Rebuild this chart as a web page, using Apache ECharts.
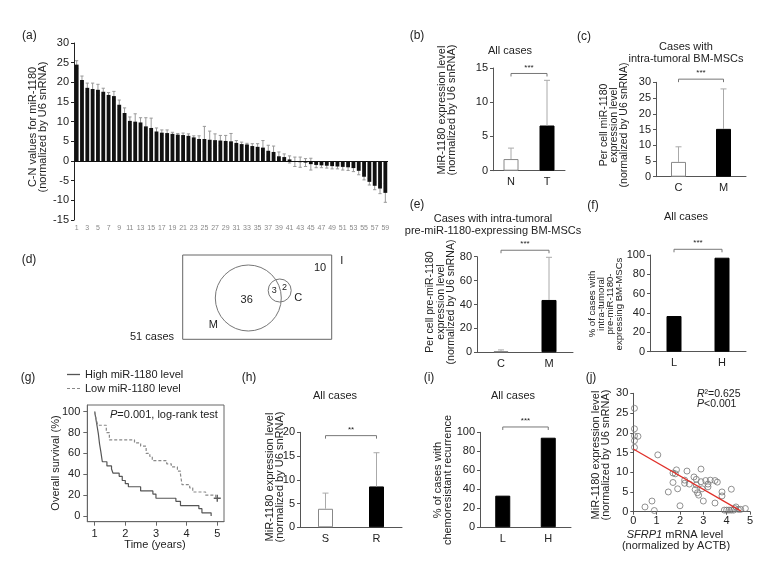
<!DOCTYPE html>
<html><head><meta charset="utf-8">
<script src="https://cdn.jsdelivr.net/npm/echarts@6/dist/echarts.min.js"></script>
<style>html,body{margin:0;padding:0;background:#fff}#c{width:770px;height:563px}</style>
</head><body><div id="c"></div>
<script>
const FONT = '"Liberation Sans", Arial, Helvetica, sans-serif';

// ---------- (a) C-N values per case ----------
const aCases = ['1','2','3','4','5','6','7','8','9','10','11','12','13','14','15','16','17','18','19','20',
  '21','22','23','24','25','26','27','28','29','30','31','32','33','34','35','36','37','38','39','40',
  '41','42','43','44','45','46','47','48','49','50','51','52','53','54','55','56','57','58','59'];
const aValues = [24.5,20.6,18.6,18.3,18.1,17.6,16.8,16.5,14.3,12.2,
  10.2,10.0,9.8,8.8,8.4,7.5,7.2,7.1,6.9,6.7,
  6.6,6.4,6.0,5.6,5.6,5.4,5.3,5.2,5.1,5.0,
  4.6,4.3,4.2,3.8,3.6,3.4,2.6,2.3,1.2,1.0,
  0.4,-0.2,-0.3,-0.4,-0.8,-1.0,-1.1,-1.2,-1.3,-1.4,
  -1.5,-1.6,-1.8,-2.5,-4.0,-5.3,-6.3,-7.0,-8.1];
const aErrors = [1.0,1.0,1.2,1.5,1.4,0.9,0.6,1.2,1.2,1.3,
  1.0,2.0,1.2,2.2,2.5,0.9,0.7,0.8,0.4,0.3,
  0.5,0.5,0.4,0.8,3.2,2.2,1.6,1.3,1.4,2.0,
  0.6,0.5,0.3,0.6,0.8,1.8,1.4,1.5,1.1,0.8,
  0.9,1.2,1.3,1.0,1.5,0.7,0.6,0.6,0.7,0.6,
  0.8,0.8,0.9,1.0,0.8,0.8,1.0,1.3,2.4];
const aTicks = [-15,-10,-5,0,5,10,15,20,25,30];

// ---------- (b) ----------
const bCats = ['N','T'];
const bMeans = [1.7, 6.6];
const bSD = [1.6, 6.6];
const bTicks = [0,5,10,15];

// ---------- (c) ----------
const cCats = ['C','M'];
const cMeans = [4.7, 15.2];
const cSD = [4.8, 12.7];
const cTicks = [0,5,10,15,20,25,30];

// ---------- (d) Venn counts ----------
const dCounts = {onlyM: 36, both: 3, onlyC: 2, neither: 10, total: 51};

// ---------- (e) ----------
const eCats = ['C','M'];
const eMeans = [1.0, 43.8];
const eSD = [1.0, 35.7];
const eTicks = [0,20,40,60,80];

// ---------- (f) ----------
const fCats = ['L','H'];
const fPercent = [36.9, 97.2];
const fTicks = [0,20,40,60,80,100];

// ---------- (g) survival ----------
const gHigh = [[1.0,100],[1.04,93],[1.08,86],[1.12,79],[1.16,69],[1.2,62],[1.25,52],[1.4,48],[1.55,45],[1.6,41],
  [1.8,38],[1.9,34],[2.0,31],[2.1,28],[2.5,24],[2.9,21],[3.0,17],[3.65,14],[3.8,10],[4.4,7],[4.5,3],[4.8,0]];
const gLow = [[1.0,100],[1.05,93],[1.1,87],[1.38,80],[1.48,73],[2.3,70],[2.5,67],[2.68,60],[2.8,57],[2.88,53],
  [3.35,50],[3.5,47],[3.7,43],[3.8,40],[3.85,30],[4.1,27],[4.2,23],[4.62,20],[4.95,17],[5.0,17]];
const gCensor = [[5.0,17]];
const gTicksX = [1,2,3,4,5];
const gTicksY = [0,20,40,60,80,100];

// ---------- (h) ----------
const hCats = ['S','R'];
const hMeans = [3.9, 8.6];
const hSD = [3.3, 7.1];
const hTicks = [0,5,10,15,20];

// ---------- (i) ----------
const iCats = ['L','H'];
const iPercent = [33.3, 94.3];
const iTicks = [0,20,40,60,80,100];

// ---------- (j) scatter ----------
const jSFRP1 = [0.05,0.05,0.05,0.2,0.05,0.05,0.5,0.8,0.9,1.05,
  1.5,1.7,1.7,1.85,1.9,2.0,1.8,2.3,2.2,2.2,
  2.4,2.6,2.7,2.7,2.65,2.75,2.8,2.9,2.9,2.95,
  3.0,3.1,3.2,3.2,3.3,3.5,3.6,3.5,3.8,3.8,
  3.9,4.0,4.1,4.2,4.2,4.3,4.35,4.4,4.5,4.6,4.8];
const jMiR = [26.2,21.0,19.2,19.1,18.0,16.3,1.2,2.7,0.3,14.4,
  5.0,7.4,9.8,10.6,5.8,1.5,9.6,10.3,8.0,7.2,
  7.0,8.8,8.2,6.8,5.6,4.8,4.2,10.8,7.6,5.8,
  2.7,7.9,7.0,6.3,8.0,7.9,7.5,2.2,5.0,4.0,
  0.4,0.4,0.4,5.7,0.4,0.4,0.8,1.2,0.6,0.6,0.8];
const jFit = [[0,15.9],[4.6,0.2]];
const jTicksX = [0,1,2,3,4,5];
const jTicksY = [0,5,10,15,20,25,30];

// ---------- layout ----------
function G(l,t,r,b){ return {left:l, top:t, width:r-l, height:b-t, containLabel:false, outerBoundsMode:'none'}; }
const grids = [
  G(74,43,388,220),        // 0 a
  G(493,68,565,170.7),     // 1 b
  G(656,82.3,746,176.7),   // 2 c
  G(477,256.7,573,352.3),  // 3 e
  G(650,255,746,351.7),    // 4 f
  Object.assign(G(87.3,405,224,521.7),{show:true,borderColor:'#666',borderWidth:1,backgroundColor:'transparent'}), // 5 g
  G(300,432.3,402,527.3),  // 6 h
  G(480,432.3,571,527.3),  // 7 i
  G(633.3,393.3,750,511.7) // 8 j
];

const xAxes = [], yAxes = [], series = [];
const AX = '#555';

function errRender(cap, color, both){
  return function(params, api){
    const x = api.value(0), lo = api.value(1), hi = api.value(2);
    const pL = api.coord([x, lo]), pH = api.coord([x, hi]);
    const ch = [
      {type:'line', shape:{x1:pL[0],y1:pL[1],x2:pH[0],y2:pH[1]}, style:{stroke:color,lineWidth:1}},
      {type:'line', shape:{x1:pH[0]-cap,y1:pH[1],x2:pH[0]+cap,y2:pH[1]}, style:{stroke:color,lineWidth:1}}
    ];
    if (both) ch.push({type:'line', shape:{x1:pL[0]-cap,y1:pL[1],x2:pL[0]+cap,y2:pL[1]}, style:{stroke:color,lineWidth:1}});
    return {type:'group', children:ch};
  };
}
function bracketRender(stars){
  return function(params, api){
    const a = api.coord([api.value(0), api.value(2)]);
    const b = api.coord([api.value(1), api.value(2)]);
    return {type:'group', children:[
      {type:'polyline', shape:{points:[[a[0],a[1]+3],[a[0],a[1]],[b[0],b[1]],[b[0],b[1]+3]]}, style:{stroke:'#777',lineWidth:1,fill:null}},
      {type:'text', x:(a[0]+b[0])/2, y:a[1]-2, style:{text:stars, fontSize:8, fontFamily:FONT, fill:'#222', align:'center', verticalAlign:'bottom'}}
    ]};
  };
}

function barPanel(gi, cats, vals, sds, fills, ticks, bracketY, stars){
  xAxes.push({type:'category', gridIndex:gi, data:cats, axisLine:{lineStyle:{color:AX}}, axisTick:{show:false},
    axisLabel:{fontSize:11, color:'#222', margin:6, fontFamily:FONT}});
  yAxes.push({type:'value', gridIndex:gi, min:ticks[0], max:ticks[ticks.length-1], interval:ticks[1]-ticks[0],
    axisLine:{show:true, onZero:false, lineStyle:{color:AX}}, axisTick:{show:true, length:3, lineStyle:{color:AX}},
    splitLine:{show:false}, axisLabel:{fontSize:11, color:'#222', margin:5, fontFamily:FONT}});
  const k = xAxes.length-1;
  series.push({type:'bar', xAxisIndex:k, yAxisIndex:k, barWidth:15, z:3, silent:true,
    data: vals.map((v,i)=>({value:v, itemStyle:{color:fills[i], borderColor: fills[i]==='#fff' ? '#888' : fills[i], borderWidth:1}}))});
  if (sds) series.push({type:'custom', xAxisIndex:k, yAxisIndex:k, z:4, silent:true,
    data: vals.map((v,i)=>[i, v, v+sds[i]]), renderItem: errRender(3,'#aaa',false)});
  series.push({type:'custom', xAxisIndex:k, yAxisIndex:k, z:4, silent:true, clip:false,
    data:[[0,1,bracketY]], renderItem: bracketRender(stars)});
}

// (a)
xAxes.push({type:'category', gridIndex:0, data:aCases, axisLine:{show:false, onZero:false}, axisTick:{show:false},
  axisLabel:{interval:1, fontSize:7, color:'#888', margin:5, fontFamily:FONT}});
yAxes.push({type:'value', gridIndex:0, min:aTicks[0], max:aTicks[aTicks.length-1], interval:aTicks[1]-aTicks[0],
  axisLine:{show:true, onZero:false, lineStyle:{color:'#222'}}, axisTick:{show:true, length:3, lineStyle:{color:'#222'}},
  splitLine:{show:false}, axisLabel:{fontSize:11, color:'#222', margin:5, fontFamily:FONT}});
series.push({type:'custom', xAxisIndex:0, yAxisIndex:0, z:1, silent:true,
  data: aValues.map((v,i)=>[i, v-aErrors[i], v+aErrors[i]]), renderItem: errRender(1.6,'#999',true)});
series.push({type:'bar', xAxisIndex:0, yAxisIndex:0, barWidth:'72%', z:2, silent:true, data:aValues,
  itemStyle:{color:'#111'},
  markLine:{silent:true, symbol:'none', label:{show:false}, lineStyle:{color:'#111', type:'solid', width:1}, data:[{yAxis:0}]}});

// (b) (c) (e) (f)
barPanel(1, bCats, bMeans, bSD, ['#fff','#000'], bTicks, 14.2, '***');
barPanel(2, cCats, cMeans, cSD, ['#fff','#000'], cTicks, 31, '***');
barPanel(3, eCats, eMeans, eSD, ['#fff','#000'], eTicks, 85.4, '***');
barPanel(4, fCats, fPercent, null, ['#000','#000'], fTicks, 105.9, '***');
// (g) survival axes index 5
xAxes.push({type:'value', gridIndex:5, min:0.76, max:5.22, axisLine:{onZero:false, lineStyle:{color:'#666'}},
  axisTick:{show:true, length:4, customValues:gTicksX, lineStyle:{color:'#666'}},
  axisLabel:{customValues:gTicksX, fontSize:11, color:'#222', margin:7, fontFamily:FONT}, splitLine:{show:false}});
yAxes.push({type:'value', gridIndex:5, min:-5.5, max:106.4, axisLine:{show:true, onZero:false, lineStyle:{color:'#666'}},
  axisTick:{show:true, length:4, customValues:gTicksY, lineStyle:{color:'#666'}},
  axisLabel:{customValues:gTicksY, fontSize:11, color:'#222', margin:7, fontFamily:FONT}, splitLine:{show:false}});
series.push({type:'line', name:'High miR-1180 level', xAxisIndex:5, yAxisIndex:5, data:gHigh, step:'end',
  symbol:'none', showSymbol:false, lineStyle:{color:'#555', width:1.2, type:'solid'}, itemStyle:{color:'#555'}, silent:true});
series.push({type:'line', name:'Low miR-1180 level', xAxisIndex:5, yAxisIndex:5, data:gLow, step:'end',
  symbol:'none', showSymbol:false, lineStyle:{color:'#888', width:1.2, type:[3,2]}, itemStyle:{color:'#888'}, silent:true});
series.push({type:'scatter', xAxisIndex:5, yAxisIndex:5, data:gCensor, symbol:'path://M4,0h2v4h4v2h-4v4h-2v-4h-4v-2h4z',
  symbolSize:7, itemStyle:{color:'#333'}, silent:true});

barPanel(6, hCats, hMeans, hSD, ['#fff','#000'], hTicks, 19.3, '**');
barPanel(7, iCats, iPercent, null, ['#000','#000'], iTicks, 105.6, '***');

// (j) scatter index 8
xAxes.push({type:'value', gridIndex:8, min:jTicksX[0], max:jTicksX[jTicksX.length-1], interval:1,
  axisLine:{onZero:false, lineStyle:{color:AX}}, axisTick:{show:true, length:3, lineStyle:{color:AX}},
  axisLabel:{fontSize:11, color:'#222', margin:4, fontFamily:FONT}, splitLine:{show:false}});
yAxes.push({type:'value', gridIndex:8, min:jTicksY[0], max:jTicksY[jTicksY.length-1], interval:5,
  axisLine:{show:true, onZero:false, lineStyle:{color:AX}}, axisTick:{show:true, length:3, lineStyle:{color:AX}},
  axisLabel:{fontSize:11, color:'#222', margin:5, fontFamily:FONT}, splitLine:{show:false}});
series.push({type:'scatter', xAxisIndex:8, yAxisIndex:8, data:jSFRP1.map((x,i)=>[x, jMiR[i]]), symbol:'circle', symbolSize:6,
  itemStyle:{color:'rgba(255,255,255,0)', borderColor:'#777', borderWidth:1}, silent:true, z:3});
series.push({type:'line', xAxisIndex:8, yAxisIndex:8, data:jFit, symbol:'none', lineStyle:{color:'#e0302a', width:1.3}, silent:true, z:4});

// ---------- texts ----------
function T(x, y, text, o){
  o = o || {};
  return {type:'text', x:x, y:y, rotation:o.rot || 0, silent:true, z:20,
    style:{text:text, fontFamily:FONT, fontSize:o.fs || 10.5, fill:o.color || '#222', align:o.align || 'center',
      verticalAlign:o.va || 'middle', lineHeight:o.lh || 11, fontStyle:o.italic ? 'italic' : 'normal', rich:o.rich}};
}
const R90 = Math.PI/2;
const graphics = [
  T(22,36,'(a)',{fs:12,align:'left'}), T(417,36,'(b)',{fs:12}), T(584,37,'(c)',{fs:12}),
  T(29,260,'(d)',{fs:12}), T(417,205,'(e)',{fs:12}), T(593,206,'(f)',{fs:12}),
  T(28,378,'(g)',{fs:12}), T(249,378,'(h)',{fs:12}), T(429,378,'(i)',{fs:12}), T(591,378,'(j)',{fs:12}),
  // titles
  T(510,51,'All cases',{fs:11}),
  T(686,53,'Cases with\nintra-tumoral BM-MSCs',{fs:11,lh:12}),
  T(493,225,'Cases with intra-tumoral\npre-miR-1180-expressing BM-MSCs',{fs:11,lh:11.5}),
  T(686,217,'All cases',{fs:11}),
  T(335,396,'All cases',{fs:11}),
  T(513,396,'All cases',{fs:11}),
  // y-axis titles
  T(38,127,'C-N values for miR-1180\n(normalized by U6 snRNA)',{rot:R90,fs:11,lh:10.5}),
  T(447,110,'MiR-1180 expression level\n(normalized by U6 snRNA)',{rot:R90,fs:11,lh:10.5}),
  T(614,125,'Per cell miR-1180\nexpression level\n(normalized by U6 snRNA)',{rot:R90,fs:10.5,lh:10}),
  T(441,302,'Per cell pre-miR-1180\nexpression level\n(normalized by U6 snRNA)',{rot:R90,fs:10.5,lh:10.5}),
  T(606,304,'% of cases with\nintra-tumoral\npre-miR-1180-\nexpressing BM-MSCs',{rot:R90,fs:9.6,lh:8.8}),
  T(56,463,'Overall survival (%)',{rot:R90,fs:11}),
  T(275,477,'MiR-1180 expression level\n(normalized by U6 snRNA)',{rot:R90,fs:11,lh:10}),
  T(443,480,'% of cases with\nchemoresistant recurrence',{rot:R90,fs:11,lh:10}),
  T(601,455,'MiR-1180 expression level\n(normalized by U6 snRNA)',{rot:R90,fs:11,lh:10}),
  // x-axis titles
  T(155,545,'Time (years)',{fs:11}),
  T(675,535,'{i|SFRP1} mRNA level',{fs:11,rich:{i:{fontStyle:'italic',fontSize:11,fontFamily:FONT}}}),
  T(676,546,'(normalized by ACTB)',{fs:11}),
  // stats text
  T(110,415,'{i|P}=0.001, log-rank test',{fs:11,align:'left',rich:{i:{fontStyle:'italic',fontSize:11,fontFamily:FONT}}}),
  T(697,394,'{i|R}\u00b2=0.625',{fs:10.5,align:'left',rich:{i:{fontStyle:'italic',fontSize:10.5,fontFamily:FONT}}}),
  T(697,404,'{i|P}<0.001',{fs:10.5,align:'left',rich:{i:{fontStyle:'italic',fontSize:10.5,fontFamily:FONT}}}),
  // Venn (d)
  {type:'rect', shape:{x:182.7,y:255,width:149,height:84.3}, style:{fill:null,stroke:'#666',lineWidth:1}, silent:true},
  {type:'circle', shape:{cx:248.3,cy:298,r:33}, style:{fill:null,stroke:'#777',lineWidth:1}, silent:true},
  {type:'circle', shape:{cx:279.7,cy:290.5,r:11.5}, style:{fill:null,stroke:'#777',lineWidth:1}, silent:true},
  T(246.7,300,String(dCounts.onlyM),{fs:11}),
  T(274.3,291,String(dCounts.both),{fs:9}),
  T(284.5,288,String(dCounts.onlyC),{fs:9}),
  T(298.3,298.3,'C',{fs:11}),
  T(213.3,325,'M',{fs:11}),
  T(320,268.3,String(dCounts.neither),{fs:11}),
  T(341.7,260.7,'I',{fs:11}),
  T(152,336.7,dCounts.total + ' cases',{fs:11})
];

const chart = echarts.init(document.getElementById('c'), null, {renderer:'canvas'});
chart.setOption({
  animation:false,
  backgroundColor:'#fff',
  textStyle:{fontFamily:FONT},
  grid: grids,
  xAxis: xAxes,
  yAxis: yAxes,
  legend:{
    data:[
      {name:'High miR-1180 level', icon:'rect'},
      {name:'Low miR-1180 level', icon:'path://M0,0h3v1h-3zM5,0h3v1h-3zM10,0h3v1h-3z'}
    ],
    orient:'vertical', left:67, top:369, itemWidth:13, itemHeight:1.3,
    itemGap:3, padding:0, selectedMode:false, textStyle:{fontSize:11, color:'#222', fontFamily:FONT}},
  series: series,
  graphic: graphics
});
</script></body></html>
